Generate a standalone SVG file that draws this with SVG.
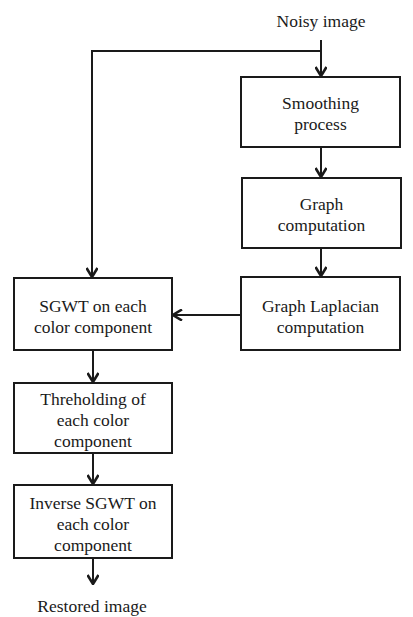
<svg xmlns="http://www.w3.org/2000/svg" width="413" height="617" viewBox="0 0 413 617">
<style>
.box{fill:#fff;stroke:#1a1a1a;stroke-width:2}
.ln{fill:none;stroke:#1a1a1a;stroke-width:2}
text{font-family:"Liberation Serif","Times New Roman",serif;font-size:17.5px;fill:#1a1a1a;text-anchor:middle;dominant-baseline:central}
</style>
<defs>
<marker id="ah" viewBox="0 0 12 12" refX="11" refY="6" markerWidth="12" markerHeight="12" markerUnits="userSpaceOnUse" orient="auto">
<path d="M2,0.5 L11,6 L2,11.5" fill="none" stroke="#1a1a1a" stroke-width="2.6"/>
</marker>
</defs>
<rect width="413" height="617" fill="#fff"/>
<g id="connectors">
<path class="ln" d="M321,40 V76" marker-end="url(#ah)"/>
<path class="ln" d="M321,51 H92 V277" marker-end="url(#ah)"/>
<path class="ln" d="M321,147 V177" marker-end="url(#ah)"/>
<path class="ln" d="M321,248 V276" marker-end="url(#ah)"/>
<path class="ln" d="M241,315 H173" marker-end="url(#ah)"/>
<path class="ln" d="M93,350 V382" marker-end="url(#ah)"/>
<path class="ln" d="M93,453 V484" marker-end="url(#ah)"/>
<path class="ln" d="M93,558 V584" marker-end="url(#ah)"/>
</g>
<g id="noisy"><text x="321" y="21">Noisy image</text></g>
<g id="smoothing">
<rect class="box" x="241" y="77" width="159" height="70"/>
<text x="320.5" y="103">Smoothing</text>
<text x="320.5" y="124">process</text>
</g>
<g id="graph">
<rect class="box" x="242" y="178" width="159" height="70"/>
<text x="321.5" y="204">Graph</text>
<text x="321.5" y="225">computation</text>
</g>
<g id="laplacian">
<rect class="box" x="241" y="277" width="159" height="73"/>
<text x="320.5" y="306">Graph Laplacian</text>
<text x="320.5" y="327">computation</text>
</g>
<g id="sgwt">
<rect class="box" x="14" y="278" width="158" height="72"/>
<text x="93" y="306">SGWT on each</text>
<text x="93" y="327">color component</text>
</g>
<g id="thresholding">
<rect class="box" x="14" y="383" width="158" height="70"/>
<text x="93" y="399">Threholding of</text>
<text x="93" y="420">each color</text>
<text x="93" y="441">component</text>
</g>
<g id="inverse">
<rect class="box" x="14" y="485" width="158" height="73"/>
<text x="93" y="503">Inverse SGWT on</text>
<text x="93" y="524">each color</text>
<text x="93" y="545">component</text>
</g>
<g id="restored"><text x="92" y="606">Restored image</text></g>
</svg>
